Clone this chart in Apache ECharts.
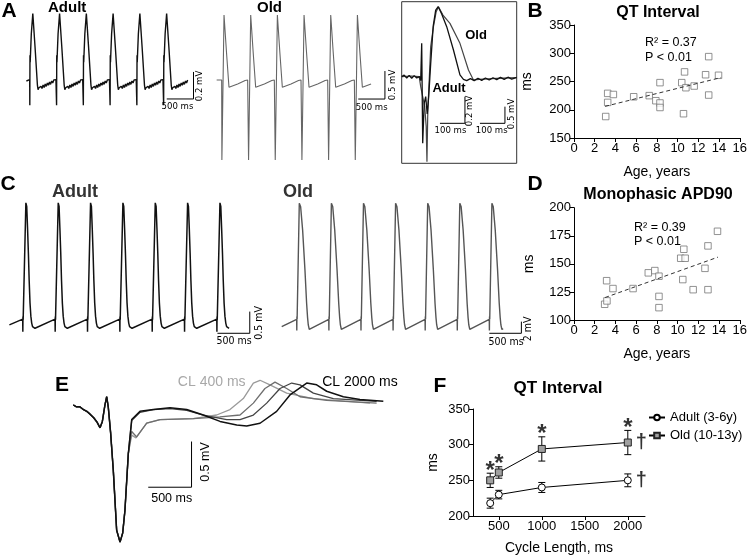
<!DOCTYPE html>
<html>
<head>
<meta charset="utf-8">
<script src="https://cdn.jsdelivr.net/npm/echarts@6/dist/echarts.min.js"></script>
<style>
html, body { margin: 0; padding: 0; background: #fff; }
#chart { width: 750px; height: 556px; }
</style>
</head>
<body>
<div id="chart"></div>
<script>
// ---------- data ----------
// A: ECG traces, one beat template [ms from stimulus, mV], repeated at each beat start
var adultALead = [[-62, 0.0], [-30, 0.01]];
var adultABeat = [[0, 0.01], [2, -0.18], [5, 0.19], [9, 0.14], [30, 0.35], [58, 0.5], [62, 0.5], [100, 0.25], [144, -0.03], [156, -0.065],
    [172, -0.05], [190, -0.062], [210, -0.04], [230, -0.055], [250, -0.03], [270, -0.048], [290, -0.022], [310, -0.04], [330, -0.015],
    [350, -0.032], [370, -0.008], [390, -0.025], [410, 0.0], [430, -0.015], [450, 0.008], [470, -0.005], [490, 0.01]];
var adultAStarts = [0, 500, 1000, 1500, 2000, 2500];
var adultAEnd = 2969;

var oldALead = [[-94, 0.0], [-80, -0.03], [-60, 0.0]];
var oldABeat = [[0, 0.0], [4, -1.43], [8, -1.2], [44, 1.16], [90, 0.5], [137, -0.13], [150, -0.15], [170, -0.14], [300, -0.07], [440, -0.01], [487, 0.0]];
var oldAStarts = [0, 500, 1000, 1500, 2000, 2500];
var oldAEnd = 2925;

// A inset: single beats, adult (0.2 mV bar) and old (0.5 mV bar)
var insetAdult = [[-80, 0], [-70, 0.012], [-60, -0.01], [-50, 0.01], [-40, -0.012], [-30, 0.008], [-20, -0.01], [-8, 0], [-4, -0.03], [0, 0.25],
    [4, -0.5], [10, -0.2], [16, -0.15], [22, -0.28], [28, -0.15], [36, 0.1], [46, 0.38], [56, 0.5], [66, 0.525], [80, 0.47], [100, 0.375],
    [127, 0.2], [153, 0.013], [167, -0.02], [180, -0.03], [195, -0.015], [210, -0.03], [225, -0.012], [240, -0.028], [255, -0.01],
    [270, -0.025], [285, -0.008], [300, -0.022], [315, -0.005], [330, -0.02], [345, -0.004], [360, -0.018], [380, -0.006]];
var insetOld = [[-80, 0], [-40, 0.02], [-10, 0], [-4, -0.3], [4, -0.6], [12, -0.9], [18, -1.5], [21, -2.55], [24, -1.2], [27, -0.6],
    [36, 0.9], [47, 1.5], [58, 1.95], [67, 2.1], [85, 1.85], [113, 1.6], [153, 1.0], [187, 0.2], [207, -0.1], [230, -0.08],
    [300, -0.05], [380, -0.03]];

// B: QT interval vs age
var qtAge = [3.06, 3.25, 3.25, 3.8, 5.76, 7.26, 7.9, 8.3, 8.3, 8.3, 10.4, 10.67, 10.57, 10.8, 11.6, 12.7, 13.0, 13.0, 13.95];
var qtMs = [188, 229, 213, 227, 223, 225, 216, 248, 212, 204, 248, 267, 193, 239, 242, 262, 294, 226, 261];
var qtFitX = [3.0, 14.2];
var qtFitY = [206, 257];

// C: monophasic action potentials
var adultCLead = [[-206, 0.08]];
var adultCBeat = [[0, 0.21], [2, -0.08], [4, 0.27], [7, 0.2], [21, 0.23], [49, 2.89], [62, 2.81], [75, 2.3], [88, 1.73], [100, 1.1],
    [113, 0.58], [126, 0.28], [139, 0.12], [152, 0.04], [165, 0.01], [190, 0.0], [500, 0.21]];
var adultCStarts = [0, 500, 1000, 1500, 2000, 2500, 3000];
var adultCEnd = 3440;

var oldCLead = [[-233, 0.46]];
var oldCBeat = [[0, 1.71], [2, -0.23], [4, 2.17], [7, 1.7], [16, 1.88], [41, 21.6], [52, 21.5], [62, 21.0], [93, 17.0], [129, 10.2],
    [155, 4.45], [170, 2.0], [181, 0.74], [196, 0.0], [217, 0.06], [500, 1.71]];
var oldCStarts = [0, 500, 1000, 1500, 2000, 2500, 3000];
var oldCEnd = 3467;

// D: monophasic APD90 vs age
var apdAge = [2.96, 3.18, 3.15, 3.76, 5.7, 7.17, 7.8, 8.2, 8.2, 8.2, 10.3, 10.6, 10.73, 10.5, 11.5, 12.64, 12.93, 12.93, 13.85];
var apdMs = [114, 117, 135, 128, 128, 142, 144, 139, 121, 111, 155, 163, 155, 136, 127, 146, 166, 127, 179];
var apdFitX = [3.0, 13.9];
var apdFitY = [120, 156];

// E: MAP at four cycle lengths
var eCommon = [[-386, 0.0], [-350, -0.02], [-310, -0.02], [-270, -0.05], [-230, -0.07], [-193, -0.1], [-150, -0.14], [-110, -0.19],
    [-77, -0.25], [-50, -0.18], [-20, 0.0], [0, 0.09], [18, -0.02], [45, -0.3], [76, -0.71], [115, -1.37], [154, -1.5], [185, -1.4],
    [211, -1.15], [250, -0.53]];
var eCL2000 = [[289, -0.16], [385, -0.07], [539, -0.05], [731, -0.03], [924, -0.05], [1116, -0.11], [1309, -0.18], [1502, -0.22],
    [1617, -0.23], [1771, -0.2], [1963, -0.07], [2117, 0.11], [2310, 0.24], [2425, 0.22], [2541, 0.15], [2733, 0.09], [2926, 0.06], [3195, 0.04]];
var eCL1000 = [[289, -0.17], [385, -0.08], [539, -0.05], [731, -0.04], [924, -0.06], [1116, -0.11], [1386, -0.16], [1540, -0.16],
    [1694, -0.11], [1848, 0.02], [2002, 0.18], [2137, 0.24], [2233, 0.22], [2387, 0.13], [2618, 0.07], [3118, 0.04]];
var eCL600 = [[289, -0.29], [346, -0.35], [462, -0.2], [616, -0.16], [1000, -0.15], [1309, -0.13], [1540, -0.11], [1694, 0.02],
    [1828, 0.18], [1944, 0.25], [2079, 0.18], [2233, 0.09], [2541, 0.05], [3118, 0.02]];
var eCL400 = [[289, -0.33], [338, -0.36], [462, -0.2], [616, -0.16], [1000, -0.15], [1270, -0.11], [1424, -0.05], [1578, 0.07],
    [1694, 0.24], [1771, 0.27], [1886, 0.22], [2079, 0.13], [2387, 0.07], [3041, 0.02]];

// F: QT interval vs cycle length (mean, sem)
var cycleLengths = [400, 500, 1000, 2000];
var adultQT = [218, 230, 240, 250];
var adultErr = [7, 6, 7, 9];
var oldQT = [250, 261, 294, 303];
var oldErr = [10, 8, 17, 17];
var fTicks = [500, 1000, 1500, 2000];

// ---------- helpers ----------
var FONT = "'Liberation Sans', Arial, Helvetica, sans-serif";
var NARROW = "'Liberation Sans Narrow', 'DejaVu Sans Condensed', " + FONT;

function buildTrace(lead, beat, starts, end) {
    var out = lead.slice();
    starts.forEach(function (s) {
        beat.forEach(function (p) {
            if (s + p[0] <= end) out.push([s + p[0], p[1]]);
        });
    });
    return out;
}
function zip(a, b) {
    return a.map(function (v, i) { return [v, b[i]]; });
}
function trace(data, xi, yi, color, width, dash) {
    return {
        type: 'line', xAxisIndex: xi, yAxisIndex: yi, data: data, symbol: 'none', silent: true,
        lineStyle: { color: color, width: width, type: dash || 'solid' }
    };
}
function hidden(grid, min, max) {
    return { type: 'value', gridIndex: grid, min: min, max: max, show: false };
}
function txt(text, x, y, size, o) {
    o = o || {};
    return {
        type: 'text', x: x, y: y, rotation: o.rot || 0, silent: true, z: 100,
        style: {
            text: text, fill: o.color || '#000',
            font: (o.bold ? 'bold ' : '') + size + 'px ' + (o.family || FONT),
            align: o.align || 'center', verticalAlign: 'middle',
            textAlign: o.align || 'center', textVerticalAlign: 'middle'
        }
    };
}
function plotAxis(grid, min, max, interval, name, gap, isY) {
    return {
        type: 'value', gridIndex: grid, min: min, max: max, interval: interval,
        axisLine: { show: true, onZero: false, lineStyle: { color: '#000', width: 1 } },
        axisTick: { show: true, length: 4, lineStyle: { color: '#000' } },
        splitLine: { show: false },
        axisLabel: { color: '#000', fontSize: 13, fontFamily: FONT, margin: isY ? 3 : 4, formatter: function (v) { return String(v); } },
        name: name, nameLocation: 'middle', nameGap: gap,
        nameTextStyle: { color: '#000', fontSize: 14, fontFamily: FONT }
    };
}
function errRender(params, api) {
    var x = api.value(0);
    var lo = api.coord([x, api.value(1)]);
    var hi = api.coord([x, api.value(2)]);
    var w = 3.5, st = { stroke: '#000', lineWidth: 1 };
    return {
        type: 'group', children: [
            { type: 'line', shape: { x1: lo[0], y1: lo[1], x2: hi[0], y2: hi[1] }, style: st },
            { type: 'line', shape: { x1: lo[0] - w, y1: lo[1], x2: lo[0] + w, y2: lo[1] }, style: st },
            { type: 'line', shape: { x1: hi[0] - w, y1: hi[1], x2: hi[0] + w, y2: hi[1] }, style: st }
        ]
    };
}

// ---------- chart ----------
var chart = echarts.init(document.getElementById('chart'));

var fX = plotAxis(8, 200, 2200, null, 'Cycle Length, ms', 25, false);
delete fX.interval;
fX.axisLabel.customValues = fTicks;
fX.axisTick.customValues = fTicks;

var option = {
    animation: false,
    backgroundColor: '#fff',
    grid: [
        { left: 19, top: 0, width: 182, height: 121.5 },                    // 0 A adult
        { left: 211, top: 1.6, width: 181.4, height: 168 },                 // 1 A old
        { left: 401.7, top: 1.7, width: 115, height: 161.6, show: true, borderColor: '#333', borderWidth: 1, backgroundColor: 'transparent' }, // 2 inset
        { left: 574, top: 25, width: 168, height: 113 },                    // 3 B
        { left: 3.3, top: 189.4, width: 252.3, height: 160.6 },             // 4 C adult
        { left: 277.4, top: 189.3, width: 250.4, height: 163.3 },           // 5 C old
        { left: 574, top: 207.7, width: 168, height: 112.3 },               // 6 D
        { left: 63.4, top: 368.4, width: 329, height: 182.8 },              // 7 E
        { left: 473, top: 409, width: 172, height: 112.3 }                  // 8 F
    ],
    xAxis: [
        hidden(0, -200, 3200),
        hidden(1, -200, 3200),
        hidden(2, -80, 380),
        plotAxis(3, 0, 16, 2, 'Age, years', 27, false),
        hidden(4, -300, 3600),
        hidden(5, -300, 3600),
        plotAxis(6, 0, 16, 2, 'Age, years', 27, false),
        hidden(7, -500, 3300),
        fX
    ],
    yAxis: [
        hidden(0, -0.3, 0.6),
        hidden(1, -1.6, 1.4),
        hidden(2, -0.65, 0.5625),
        hidden(2, -2.6, 2.25),
        plotAxis(3, 150, 350, 50, 'ms', 40, true),
        hidden(4, -0.5, 3.2),
        hidden(5, -4, 24),
        plotAxis(6, 100, 200, 25, 'ms', 38, true),
        hidden(7, -1.6, 0.4),
        plotAxis(8, 200, 350, 50, 'ms', 33, true)
    ],
    legend: {
        data: ['Adult (3-6y)', 'Old (10-13y)'],
        orient: 'vertical', left: 643, top: 406, itemWidth: 16, itemHeight: 7, itemGap: 5,
        textStyle: { color: '#000', fontSize: 13, fontFamily: FONT }
    },
    series: [
        // A
        trace(buildTrace(adultALead, adultABeat, adultAStarts, adultAEnd), 0, 0, '#111', 1.4),
        trace([[2560, -0.133], [3060, -0.133], [3060, 0.067]], 0, 0, '#000', 1),
        trace(buildTrace(oldALead, oldABeat, oldAStarts, oldAEnd), 1, 1, '#666', 1.1),
        trace([[2560, -0.34], [3060, -0.34], [3060, 0.16]], 1, 1, '#000', 1),
        trace(insetOld, 2, 3, '#444', 1.2),
        trace(insetAdult, 2, 2, '#111', 1.3),
        trace([[73, -0.35], [173, -0.35], [173, -0.15]], 2, 2, '#000', 1),
        trace([[233, -1.4], [333, -1.4], [333, -0.9]], 2, 3, '#000', 1),
        // B
        trace(zip(qtFitX, qtFitY), 3, 4, '#333', 1, [4, 3]),
        {
            type: 'scatter', xAxisIndex: 3, yAxisIndex: 4, data: zip(qtAge, qtMs), symbol: 'rect', symbolSize: 6.5,
            itemStyle: { color: '#fff', borderColor: '#777', borderWidth: 1 }, silent: true
        },
        // C
        trace(buildTrace(adultCLead, adultCBeat, adultCStarts, adultCEnd), 4, 5, '#111', 1.5),
        trace([[3010, -0.115], [3510, -0.115], [3510, 0.385]], 4, 5, '#000', 1),
        trace(buildTrace(oldCLead, oldCBeat, oldCStarts, oldCEnd), 5, 6, '#555', 1.4),
        trace([[3000, -0.69], [3500, -0.69], [3500, 1.31]], 5, 6, '#000', 1),
        // D
        trace(zip(apdFitX, apdFitY), 6, 7, '#333', 1, [4, 3]),
        {
            type: 'scatter', xAxisIndex: 6, yAxisIndex: 7, data: zip(apdAge, apdMs), symbol: 'rect', symbolSize: 6.5,
            itemStyle: { color: '#fff', borderColor: '#777', borderWidth: 1 }, silent: true
        },
        // E
        trace(eCommon.concat(eCL400), 7, 8, '#9a9a9a', 1.3),
        trace(eCommon.concat(eCL600), 7, 8, '#6e6e6e', 1.3),
        trace(eCommon.concat(eCL1000), 7, 8, '#444', 1.3),
        trace(eCommon.concat(eCL2000), 7, 8, '#111', 1.5),
        trace([[480, -0.9], [980, -0.9], [980, -0.4]], 7, 8, '#000', 1),
        // F
        {
            type: 'custom', xAxisIndex: 8, yAxisIndex: 9, renderItem: errRender, silent: true,
            data: cycleLengths.map(function (c, i) { return [c, adultQT[i] - adultErr[i], adultQT[i] + adultErr[i]]; })
        },
        {
            type: 'custom', xAxisIndex: 8, yAxisIndex: 9, renderItem: errRender, silent: true,
            data: cycleLengths.map(function (c, i) { return [c, oldQT[i] - oldErr[i], oldQT[i] + oldErr[i]]; })
        },
        {
            type: 'line', name: 'Adult (3-6y)', xAxisIndex: 8, yAxisIndex: 9, data: zip(cycleLengths, adultQT),
            symbol: 'circle', symbolSize: 7, showAllSymbol: true, silent: true,
            itemStyle: { color: '#fff', borderColor: '#000', borderWidth: 1 }, lineStyle: { color: '#000', width: 1 }
        },
        {
            type: 'line', name: 'Old (10-13y)', xAxisIndex: 8, yAxisIndex: 9, data: zip(cycleLengths, oldQT),
            symbol: 'rect', symbolSize: 7, showAllSymbol: true, silent: true,
            itemStyle: { color: '#a0a0a0', borderColor: '#222', borderWidth: 1 }, lineStyle: { color: '#000', width: 1 }
        },
        {
            type: 'scatter', xAxisIndex: 8, yAxisIndex: 9, silent: true, symbolSize: 2, itemStyle: { color: 'rgba(0,0,0,0)' },
            data: cycleLengths.map(function (c, i) { return [c, oldQT[i] + oldErr[i]]; }),
            label: { show: true, formatter: '*', position: 'inside', offset: [0, -2], fontSize: 24, fontWeight: 'bold', color: '#000', fontFamily: FONT }
        },
        {
            type: 'scatter', xAxisIndex: 8, yAxisIndex: 9, silent: true, symbolSize: 2, itemStyle: { color: 'rgba(0,0,0,0)' },
            data: [[2000, adultQT[3]], [2000, oldQT[3]]],
            label: { show: true, formatter: '\u2020', position: 'right', distance: 7, fontSize: 20, fontWeight: 'bold', color: '#000', fontFamily: FONT }
        }
    ],
    graphic: [
        // panel letters
        txt('A', 9, 11, 21, { bold: true }),
        txt('B', 535, 11, 21, { bold: true }),
        txt('C', 8, 184, 21, { bold: true }),
        txt('D', 535, 184, 21, { bold: true }),
        txt('E', 62, 385, 21, { bold: true }),
        txt('F', 440, 386, 21, { bold: true }),
        // A
        txt('Adult', 48, 8, 15, { bold: true, align: 'left' }),
        txt('Old', 257, 8, 15, { bold: true, align: 'left' }),
        txt('500 ms', 177.5, 107, 9.5, { family: NARROW }),
        txt('0.2 mV', 200, 86, 9.5, { family: NARROW, rot: Math.PI / 2 }),
        txt('500 ms', 371.7, 107.3, 9.5, { family: NARROW }),
        txt('0.5 mV', 392.5, 85, 9.5, { family: NARROW, rot: Math.PI / 2 }),
        txt('Old', 476, 35, 13, { bold: true }),
        txt('Adult', 449, 88, 13, { bold: true }),
        txt('0.2 mV', 469.5, 111, 9.5, { family: NARROW, rot: Math.PI / 2 }),
        txt('100 ms', 450.5, 131, 9.5, { family: NARROW }),
        txt('0.5 mV', 511.3, 114, 9.5, { family: NARROW, rot: Math.PI / 2 }),
        txt('100 ms', 491.7, 131, 9.5, { family: NARROW }),
        // B
        txt('QT Interval', 658, 13, 16, { bold: true }),
        txt('R\u00b2 = 0.37', 645, 43, 12.5, { align: 'left' }),
        txt('P < 0.01', 645, 58, 12.5, { align: 'left' }),
        // C
        txt('Adult', 52, 192, 18, { bold: true, align: 'left', color: '#333' }),
        txt('Old', 283, 192, 18, { bold: true, align: 'left', color: '#333' }),
        txt('500 ms', 234, 341.7, 10.5, { family: NARROW }),
        txt('0.5 mV', 259, 323, 10.5, { family: NARROW, rot: Math.PI / 2 }),
        txt('500 ms', 506, 342.3, 10.5, { family: NARROW }),
        txt('2 mV', 528.5, 329, 10.5, { family: NARROW, rot: Math.PI / 2 }),
        // D
        txt('Monophasic APD90', 658, 195, 16, { bold: true }),
        txt('R\u00b2 = 0.39', 634, 228, 12.5, { align: 'left' }),
        txt('P < 0.01', 634, 242, 12.5, { align: 'left' }),
        // E
        txt('CL 400 ms', 211.7, 381.7, 14, { color: '#a8a8a8' }),
        txt('CL 2000 ms', 360, 381.7, 14),
        txt('500 ms', 171.7, 498.3, 12.5),
        txt('0.5 mV', 206, 462, 12.5, { rot: Math.PI / 2 }),
        // F
        txt('QT Interval', 558, 388, 17, { bold: true })
    ]
};

chart.setOption(option);
</script>
</body>
</html>
